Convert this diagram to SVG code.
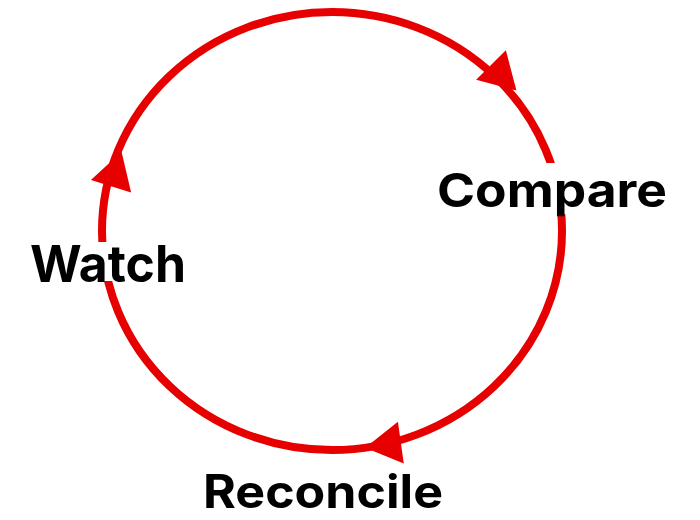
<svg xmlns="http://www.w3.org/2000/svg" width="700" height="520" viewBox="0 0 700 520">
  <style>
    .ring { fill: none; stroke: #e60000; stroke-width: 8; }
    .head { fill: #e60000; }
    .bg { fill: #ffffff; }
    .label { font-family: Inter, "Noto Sans", "DejaVu Sans", sans-serif; font-weight: 700; fill: #000000; }
  </style>
  <defs>
    <path id="arrowhead" d="M19,0 L-17,-21 L-17,21 Z"/>
  </defs>
  <rect width="700" height="520" fill="#ffffff"/>
  <g id="connectors">
    <ellipse class="ring" cx="332" cy="231" rx="230" ry="219"/>
    <use href="#arrowhead" class="head" transform="translate(503,77) rotate(45)"/>
    <use href="#arrowhead" class="head" transform="translate(116,170) rotate(-73)"/>
    <use href="#arrowhead" class="head" transform="translate(384,445) rotate(172)"/>
  </g>
  <g id="compare">
    <rect class="bg" x="435" y="163" width="234" height="51"/>
    <text class="label" x="437" y="207" font-size="47" textLength="230" lengthAdjust="spacingAndGlyphs">Compare</text>
  </g>
  <g id="watch">
    <rect class="bg" x="28" y="242" width="160" height="39"/>
    <text class="label" x="30" y="282" font-size="51" textLength="156" lengthAdjust="spacingAndGlyphs">Watch</text>
  </g>
  <g id="reconcile">
    <text class="label" x="203" y="508" font-size="46" textLength="240" lengthAdjust="spacingAndGlyphs">Reconcile</text>
  </g>
</svg>
